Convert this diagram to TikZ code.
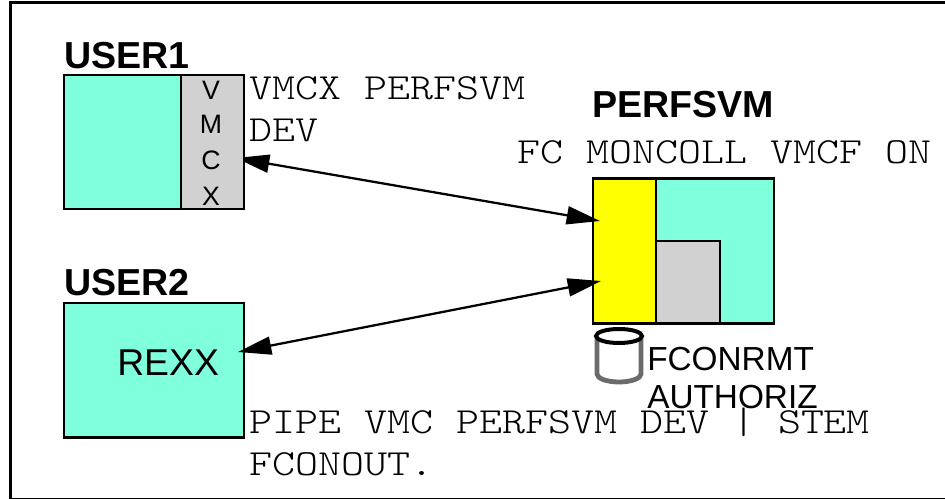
\documentclass[tikz,border=0pt]{standalone}
\usepackage{fontspec}
\setmainfont{Liberation Sans}
\setmonofont{Latin Modern Mono Light}[FakeStretch=1.19]
\usetikzlibrary{arrows.meta}
\definecolor{aqua}{RGB}{127,255,220}
\definecolor{panel}{RGB}{209,209,209}
\definecolor{pure}{RGB}{255,255,0}
\tikzset{
    box/.style={draw,line width=1.8pt,anchor=north west,inner sep=0pt,outer sep=0pt},
    title/.style={anchor=base west,inner sep=0pt,font=\fontsize{28.2}{30}\selectfont\bfseries},
    mono/.style={anchor=base west,inner sep=0pt,font=\fontsize{27.6}{30}\selectfont\ttfamily},
    sans/.style={anchor=base west,inner sep=0pt,font=\fontsize{25}{28}\selectfont},
    letter/.style={anchor=base,inner sep=0pt,font=\fontsize{20}{22}\selectfont},
    link/.style={line width=1.7pt,{Triangle[length=25pt,width=13.5pt]}-{Triangle[length=25pt,width=13.5pt]}}
}
\begin{document}
\begin{tikzpicture}[x=0.75pt,y=-0.75pt]
    \useasboundingbox (0,0) rectangle (945,499);
    \draw[line width=1.8pt] (946,2.5) -- (10.3,2.5) -- (10.3,499.6) -- (946,499.6);
    \node[box,fill=aqua,minimum width=180pt*0.75,minimum height=134.5pt*0.75] (user2) at (64,303) {};
    \node[box,fill=aqua,minimum width=181pt*0.75,minimum height=145pt*0.75] (perf) at (593,178.5) {};
    \node[box,fill=pure,minimum width=63pt*0.75,minimum height=145pt*0.75] (iucv) at (593,178.5) {};
    \node[box,fill=panel,minimum width=64pt*0.75,minimum height=82.5pt*0.75] (inner) at (656,241) {};
    \coordinate (a1) at (236,158);
    \coordinate (a2) at (600,221);
    \coordinate (b1) at (238,352);
    \coordinate (b2) at (601,281);
    \draw[link] (a1) -- (a2);
    \draw[link] (b1) -- (b2);
    \node[box,fill=aqua,minimum width=180pt*0.75,minimum height=134pt*0.75] (user1) at (64,75) {};
    \node[box,fill=panel,minimum width=63pt*0.75,minimum height=134pt*0.75] (vmcx) at (181,75) {};
    \node[title] (t1) at (64,69) {USER1};
    \node[title] (t2) at (64,295) {USER2};
    \node[title] (t3) at (592,118) {PERFSVM};
    \node[letter] (v) at (211,100) {V};
    \node[letter] (m) at (211,134) {M};
    \node[letter] (c) at (211,170) {C};
    \node[letter] (x) at (211,205) {X};
    \node[anchor=base west,inner sep=0pt,font=\fontsize{28}{30}\selectfont] (rexx) at (117,375) {REXX};
    \node[mono] (l1) at (249,100) {VMCX PERFSVM};
    \node[mono] (l2) at (249,142) {DEV};
    \node[mono] (l3) at (517,163) {FC MONCOLL VMCF ON};
    \node[sans] (l6) at (647,370) {FCONRMT};
    \node[sans] (l7) at (647,408) {AUTHORIZ};
    \node[mono] (l4) at (249,433) {PIPE VMC PERFSVM DEV | STEM};
    \node[mono] (l5) at (249,475) {FCONOUT.};
    % disk
    \draw[line width=3.6pt,draw=black!58,fill=white] (597,336) -- (597,374) arc[start angle=180,end angle=360,x radius=22,y radius=-8] -- (641,336);
    \draw[line width=3pt,fill=white] (619,336) ellipse[x radius=23,y radius=7];
\end{tikzpicture}
\end{document}
